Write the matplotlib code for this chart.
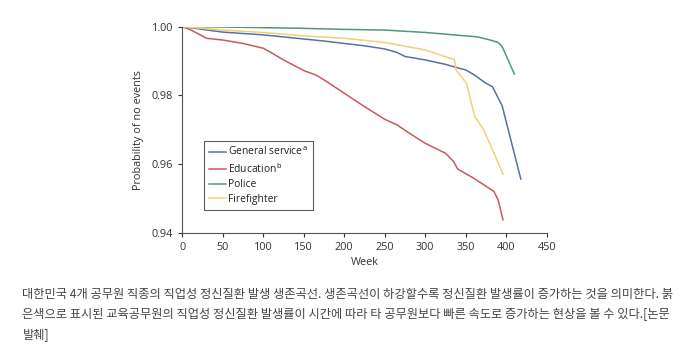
import matplotlib
matplotlib.use("Agg")
import matplotlib.pyplot as plt

plt.rcParams['font.family'] = ['Open Sans', 'DejaVu Sans']

# survival curves (week, probability of no events)
general_wk = [0, 25, 50, 75, 100, 125, 150, 175, 200, 225, 250, 265, 275, 300, 325, 340, 350, 360, 375, 383, 395, 418]
general_p = [1.0, 0.9992, 0.9984, 0.998, 0.9976, 0.997, 0.9964, 0.9958, 0.9951, 0.9944, 0.9935, 0.9925, 0.9913, 0.9903, 0.989, 0.988, 0.9874, 0.986, 0.9835, 0.9825, 0.9769, 0.9556]

educ_wk = [0, 11, 30, 50, 75, 100, 110, 125, 150, 165, 175, 200, 225, 250, 265, 280, 300, 325, 335, 340, 360, 375, 385, 390, 396]
educ_p = [1.0, 0.999, 0.9966, 0.9961, 0.9951, 0.9937, 0.9924, 0.9903, 0.9872, 0.9859, 0.9845, 0.9806, 0.9767, 0.973, 0.9714, 0.969, 0.966, 0.9631, 0.9607, 0.9585, 0.9558, 0.9535, 0.9519, 0.9495, 0.9437]

police_wk = [0, 50, 100, 150, 200, 250, 300, 350, 365, 380, 390, 395, 410]
police_p = [1.0, 0.9999, 0.9997, 0.9995, 0.9992, 0.999, 0.9983, 0.9973, 0.997, 0.9961, 0.9954, 0.9942, 0.9862]

fire_wk = [0, 50, 100, 150, 200, 250, 300, 336, 338, 351, 361, 372, 385, 396]
fire_p = [1.0, 0.999, 0.9983, 0.9973, 0.9966, 0.9954, 0.9932, 0.9904, 0.9874, 0.9835, 0.9738, 0.970, 0.9631, 0.957]

x_ticks = [0, 50, 100, 150, 200, 250, 300, 350, 400, 450]
y_ticks = [0.94, 0.96, 0.98, 1.00]

caption = ("대한민국 4개 공무원 직종의 직업성 정신질환 발생 생존곡선. 생존곡선이 하강할수록 정신질환 발생률이 증가하는 것을 의미한다. 붉\n"
           "은색으로 표시된 교육공무원의 직업성 정신질환 발생률이 시간에 따라 타 공무원보다 빠른 속도로 증가하는 현상을 볼 수 있다.[논문\n"
           "발췌]")

fig = plt.figure(figsize=(6.8, 3.55), dpi=100)
ax = fig.add_axes([0.268, 0.345, 0.536, 0.58])

ax.plot(general_wk, general_p, color='#5670a8', lw=1.1, label='General service$^{\\,\\mathrm{a}}$')
ax.plot(educ_wk, educ_p, color='#c65b5e', lw=1.1, label='Education$^{\\,\\mathrm{b}}$')
ax.plot(police_wk, police_p, color='#4f9a72', lw=1.1, label='Police')
ax.plot(fire_wk, fire_p, color='#f2cf7a', lw=1.1, label='Firefighter')

ax.set_xlim(0, 450)
ax.set_ylim(0.94, 1.0)
ax.set_xticks(x_ticks)
ax.set_yticks(y_ticks)
ax.set_yticklabels(['%.2f' % v for v in y_ticks])
ax.tick_params(labelsize=7.8, colors='#333333', length=3, width=0.8)
for s in ['top', 'right']:
    ax.spines[s].set_visible(False)
for s in ['left', 'bottom']:
    ax.spines[s].set_color('#555555')
ax.set_xlabel('Week', fontsize=7.8, color='#333333', labelpad=3)
ax.set_ylabel('Probability of no events', fontsize=7.8, color='#333333', labelpad=6)

leg = ax.legend(loc='lower left', bbox_to_anchor=(0.06, 0.11), fontsize=7.4, frameon=True,
                fancybox=False, edgecolor='#333333', handlelength=1.6, handletextpad=0.2,
                borderpad=0.5, labelspacing=0.35, borderaxespad=0)
leg.get_frame().set_linewidth(0.8)
for t in leg.get_texts():
    t.set_color('#222222')

fig.text(0.033, 0.19, caption, fontsize=8.8, color='#444444', va='top', ha='left',
         linespacing=1.7, family=['Noto Sans CJK KR', 'DejaVu Sans'])

fig.savefig('out.png', dpi=100)
